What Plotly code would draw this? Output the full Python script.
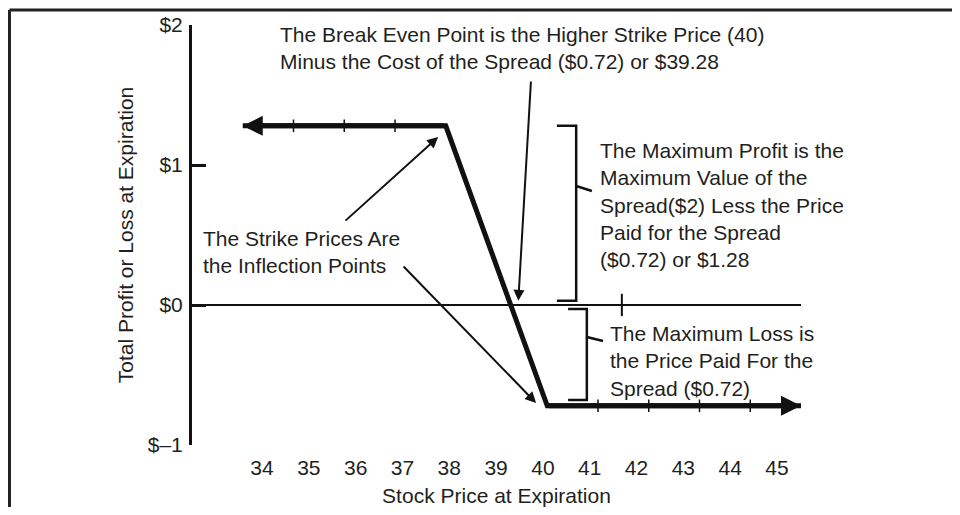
import plotly.graph_objects as go

# payoff of the bull call spread (stock price -> profit)
price = [34, 38, 40, 45]
profit = [1.28, 1.28, -0.72, -0.72]

# small marks along the payoff line
mark_price = [35, 36, 37, 41, 42, 43, 44]
mark_profit = [1.28, 1.28, 1.28, -0.72, -0.72, -0.72, -0.72]

break_even = 39.28
zero_mark = [41.47]

price_ticks = [34, 35, 36, 37, 38, 39, 40, 41, 42, 43, 44, 45]
profit_ticks = [-1, 0, 1, 2]
profit_labels = ["$\u20131", "$0", "$1", "$2"]

INK = "#231f20"
FONT = dict(family="Liberation Sans", size=21, color=INK)

fig = go.Figure()

fig.add_trace(go.Scatter(x=price, y=profit, mode="lines",
                         line=dict(color="#111", width=5), hoverinfo="skip"))
fig.add_trace(go.Scatter(x=mark_price, y=mark_profit, mode="markers",
                         marker=dict(symbol="line-ns", size=9,
                                     line=dict(color="#111", width=1.5)),
                         hoverinfo="skip"))
fig.add_trace(go.Scatter(x=zero_mark, y=[0], mode="markers",
                         marker=dict(symbol="line-ns", size=16,
                                     line=dict(color="#111", width=2)),
                         hoverinfo="skip"))
# invisible trace so the label axis is drawn
fig.add_trace(go.Scatter(x=price_ticks, y=[0] * len(price_ticks), xaxis="x2",
                         mode="markers", marker=dict(opacity=0), hoverinfo="skip"))

# arrowheads at both ends of the payoff line
fig.add_annotation(x=price[0], y=profit[0], ax=price[1], ay=profit[1],
                   xref="x", yref="y", axref="x", ayref="y", text="",
                   showarrow=True, arrowhead=2, arrowwidth=5, arrowsize=0.8,
                   arrowcolor="#111")
fig.add_annotation(x=price[-1], y=profit[-1], ax=price[-2], ay=profit[-2],
                   xref="x", yref="y", axref="x", ayref="y", text="",
                   showarrow=True, arrowhead=2, arrowwidth=5, arrowsize=0.8,
                   arrowcolor="#111")

# pointer arrows
pointers = [
    ((39.68, 1.607), (break_even + 0.15, 0.03)),
    ((35.995, 0.593), (37.85, 1.2)),
    ((37.14, 0.286), (39.78, -0.7)),
]
for (tx, ty), (hx, hy) in pointers:
    fig.add_annotation(x=hx, y=hy, ax=tx, ay=ty, xref="x", yref="y",
                       axref="x", ayref="y", text="", showarrow=True,
                       arrowhead=2, arrowwidth=2, arrowsize=1.1, arrowcolor="#111")

# text blocks
texts = [
    (34.70, 1.836, "The Break Even Point is the Higher Strike Price (40)<br>"
                   "Minus the Cost of the Spread ($0.72) or $39.28"),
    (33.18, 0.382, "The Strike Prices Are<br>the Inflection Points"),
    (41.00, 0.714, "The Maximum Profit is the<br>Maximum Value of the<br>"
                   "Spread($2) Less the Price<br>Paid for the Spread<br>($0.72) or $1.28"),
    (41.20, -0.40, "The Maximum Loss is<br>the Price Paid For the<br>Spread ($0.72)"),
]
for tx, ty, t in texts:
    fig.add_annotation(x=tx, y=ty, xref="x", yref="y", text=t, showarrow=False,
                       xanchor="left", yanchor="middle", align="left", font=FONT)

# brackets
line = dict(color="#111", width=2.5)
fig.add_shape(type="path", xref="x", yref="y",
              path="M 40.19 1.28 L 40.57 1.28 L 40.57 0.03 L 40.19 0.03", line=line)
fig.add_shape(type="line", xref="x", yref="y", x0=40.57, y0=0.85, x1=40.88, y1=0.814, line=line)
fig.add_shape(type="path", xref="x", yref="y",
              path="M 40.41 -0.029 L 40.78 -0.029 L 40.78 -0.679 L 40.41 -0.679", line=line)
fig.add_shape(type="line", xref="x", yref="y", x0=40.78, y0=-0.229, x1=41.10, y1=-0.257, line=line)

# outer frame: only top and left edges are in view
frame = dict(color="#222", width=3)
fig.add_shape(type="line", xref="paper", yref="paper", x0=-0.2997, x1=1.3,
              y0=1.0357, y1=1.0357, line=frame)
fig.add_shape(type="line", xref="paper", yref="paper", x0=-0.2997, x1=-0.2997,
              y0=1.0357, y1=-0.2, line=frame)

# page body adds an 8px margin, so the figure is 16px smaller than the window
fig.update_layout(
    width=944, height=499,
    margin=dict(l=184, r=151, t=17, b=62),
    paper_bgcolor="white", plot_bgcolor="white",
    showlegend=False, font=FONT,
    xaxis=dict(range=[33, 45], showgrid=False, zeroline=False, showline=False,
               showticklabels=False, ticks="", automargin=False),
    xaxis2=dict(overlaying="x", side="bottom", anchor="y", range=[32.504, 45.513],
                tickvals=price_ticks, showgrid=False, zeroline=False, showline=False,
                ticks="", ticklabelstandoff=8, tickfont=FONT, automargin=False,
                title=dict(text="Stock Price at Expiration", standoff=10, font=FONT)),
    yaxis=dict(range=[-1, 2], tickvals=profit_ticks, ticktext=profit_labels,
               showgrid=False, zeroline=True, zerolinecolor="#111", zerolinewidth=2,
               showline=True, linecolor="#111", linewidth=3,
               ticks="inside", ticklen=14, tickwidth=3, tickcolor="#111",
               ticklabelstandoff=2, tickfont=FONT, automargin=False,
               title=dict(text="Total Profit or Loss at Expiration", standoff=9, font=FONT)),
)

fig.write_html("out.html")
